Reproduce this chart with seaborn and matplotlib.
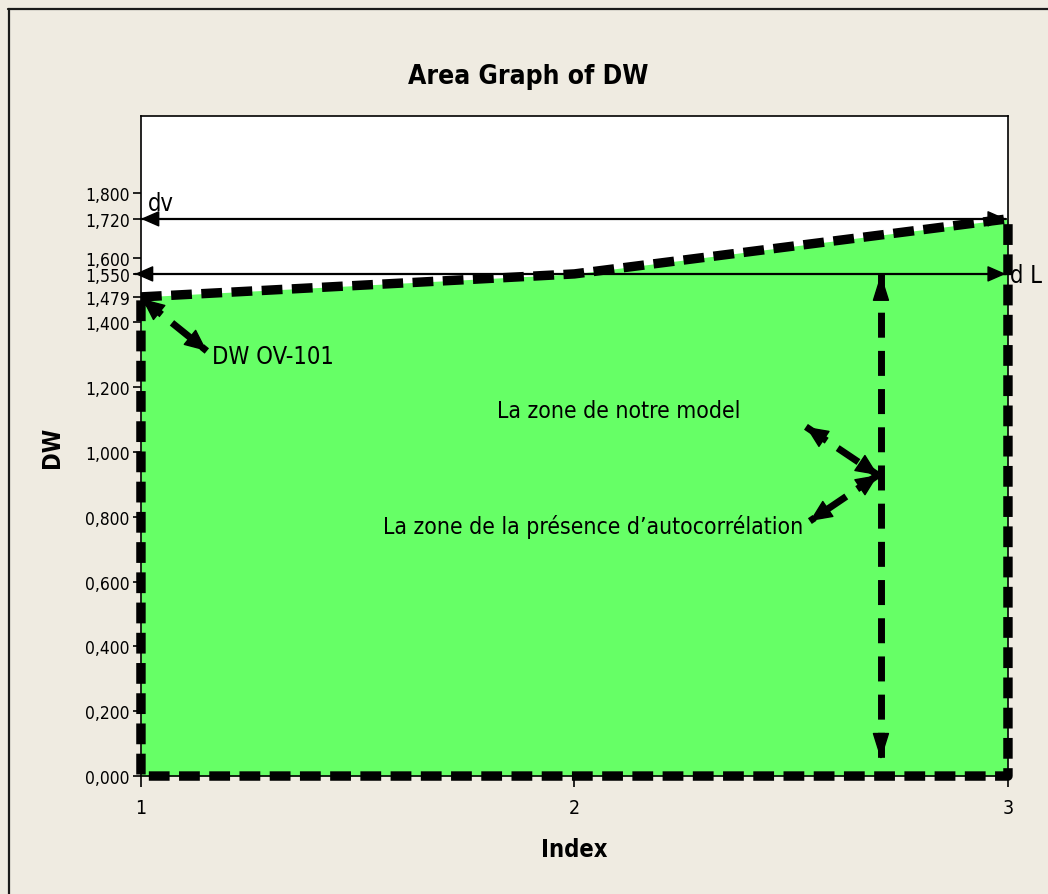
import matplotlib
matplotlib.use("Agg")
import matplotlib.pyplot as plt
from matplotlib import font_manager as fm
from matplotlib.lines import Line2D
import numpy as np
import pandas as pd
import seaborn as sns

# Durbin-Watson statistic per index and the two critical bounds
index = [1, 2, 3]
dw = [1.479, 1.550, 1.720]
dv_bound = 1.720
dl_bound = 1.550
ytick_vals = [0.0, 0.2, 0.4, 0.6, 0.8, 1.0, 1.2, 1.4, 1.479, 1.55, 1.6, 1.72, 1.8]
ytick_labels = [f"{v:.3f}".replace(".", ",") for v in ytick_vals]
xtick_vals = [1, 2, 3]

BG = "#EFEBE1"
GREEN = "#66FF66"

sns.set_theme(style="white")


def narrow_family():
    for fam in ["Liberation Sans Narrow", "DejaVu Sans Condensed"]:
        try:
            fm.findfont(fm.FontProperties(family=fam), fallback_to_default=False)
            return fam
        except Exception:
            pass
    return "DejaVu Sans"


FAM = narrow_family()
plt.rcParams["font.family"] = [FAM, "DejaVu Sans"]
plt.rcParams["font.stretch"] = "condensed"
plt.rcParams["text.color"] = "black"
plt.rcParams["axes.labelcolor"] = "black"

fig = plt.figure(figsize=(10.48, 8.95), dpi=100, facecolor=BG)
ax = fig.add_axes([0.1345, 0.1318, 0.8273, 0.7375])
ax.set_facecolor("white")
ax.set_xlim(1, 3)
ax.set_ylim(0, 2.0375)

# green area under the DW curve
df = pd.DataFrame({"Index": index, "DW": dw})
ax.fill_between(df["Index"], 0, df["DW"], color=GREEN, lw=0, zorder=1)

# dashed outline running round the whole area
outline = pd.DataFrame({
    "x": index + [index[-1], index[0], index[0]],
    "y": dw + [0.0, 0.0, dw[0]],
})
sns.lineplot(data=outline, x="x", y="y", sort=False, estimator=None, ax=ax,
             color="black", lw=6.8, linestyle=(0, (2.2, 1.0)),
             solid_capstyle="butt", dash_capstyle="butt",
             clip_on=False, zorder=4)

PX_PER_PT = fig.dpi / 72.0


def head(tip, base, length_px, half_w_px):
    """Solid arrow head at `tip`, pointing away from `base`."""
    t = ax.transData.transform(tip)
    b = ax.transData.transform(base)
    d = (t - b) / np.hypot(*(t - b))
    off = -d * length_px / PX_PER_PT
    ms = 10.0
    ax.annotate("", xy=tip, xytext=(off[0], off[1]), textcoords="offset points",
                xycoords="data", annotation_clip=False, zorder=6,
                arrowprops=dict(arrowstyle=f"-|>,head_length={length_px / (ms * PX_PER_PT)},"
                                           f"head_width={half_w_px / (ms * PX_PER_PT)}",
                                color="black", lw=1, shrinkA=0, shrinkB=0,
                                mutation_scale=ms))


def dashed_arrow(p0, p1, lw=5, dashes=(0, (3.6, 1.9)), length_px=22, half_w_px=8):
    ax.plot([p0[0], p1[0]], [p0[1], p1[1]], color="black", lw=lw, linestyle=dashes,
            dash_capstyle="butt", clip_on=False, zorder=5)
    head(p1, p0, length_px, half_w_px)
    head(p0, p1, length_px, half_w_px)


def thin_arrow(p0, p1):
    ax.plot([p0[0], p1[0]], [p0[1], p1[1]], color="black", lw=1.6,
            clip_on=False, zorder=5)
    head(p1, p0, 16, 7)
    head(p0, p1, 16, 7)


# critical bounds dv and dL
thin_arrow((1.0, dv_bound), (2.995, dv_bound))
thin_arrow((0.986, dl_bound), (2.995, dl_bound))
ax.text(1.017, dv_bound + 0.048, "dv", fontsize=17, ha="left", va="center")
ax.text(3.004, dl_bound - 0.002, "d L", fontsize=17, ha="left", va="center")

# vertical span of the model zone
dashed_arrow((2.707, dl_bound), (2.707, 0.05), length_px=24, half_w_px=7.5)

# pointer to the observed DW value
dashed_arrow((1.003, dw[0] - 0.006), (1.152, 1.312), length_px=20, half_w_px=9)
ax.text(1.163, 1.298, "DW OV-101", fontsize=17, ha="left", va="center")

# pointers to the two zones
dashed_arrow((2.534, 1.078), (2.700, 0.929), length_px=20, half_w_px=9)
dashed_arrow((2.700, 0.929), (2.543, 0.787), length_px=20, half_w_px=9)
ax.text(2.103, 1.128, "La zone de notre model", fontsize=16.5, ha="center", va="center")
ax.text(2.043, 0.772, "La zone de la présence d\u2019autocorrélation", fontsize=16.5,
        ha="center", va="center")

ax.set_xticks(xtick_vals)
ax.set_xticklabels([str(v) for v in xtick_vals])
ax.set_yticks(ytick_vals)
ax.set_yticklabels(ytick_labels)
ax.tick_params(axis="y", direction="out", length=6, width=1.2, color="black",
               labelsize=12.5, labelcolor="black", pad=2, left=True)
ax.tick_params(axis="x", direction="out", length=8, width=1.2, color="black",
               labelsize=14, labelcolor="black", pad=8, bottom=True)
for s in ax.spines.values():
    s.set_color("black")
    s.set_linewidth(1.2)
    s.set_visible(True)

ax.set_xlabel("Index", fontsize=17, fontweight="bold", labelpad=14)
ax.set_ylabel("DW", fontsize=17, fontweight="bold", labelpad=15)
fig.text(0.504, 0.914, "Area Graph of DW", fontsize=19, fontweight="bold",
         ha="center", va="center", color="black")

# outer frame of the graph window
fig.add_artist(Line2D([0.008, 1.0], [0.9885, 0.9885], color="#1a1a1a", lw=1.6,
                      transform=fig.transFigure))
fig.add_artist(Line2D([0.0085, 0.0085], [0.0, 0.9885], color="#1a1a1a", lw=1.6,
                      transform=fig.transFigure))

fig.savefig("out.png", dpi=100, facecolor=BG)
